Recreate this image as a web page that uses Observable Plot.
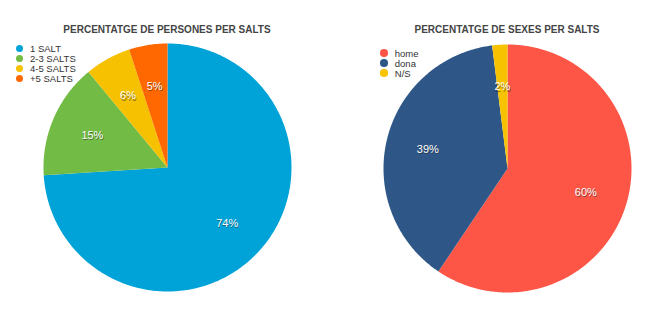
<!DOCTYPE html>
<html>
<head>
<meta charset="utf-8">
<script src="https://cdn.jsdelivr.net/npm/d3@7"></script>
<script src="https://cdn.jsdelivr.net/npm/@observablehq/plot@0.6"></script>
<style>
  html, body { margin: 0; padding: 0; background: #fff; }
  #root { position: relative; width: 660px; height: 322px; font-family: "Liberation Sans", Arial, Helvetica, sans-serif; }
  .panel { position: absolute; top: 0; width: 330px; height: 322px; }
  .title { position: absolute; top: 23.5px; left: 0; width: 330px; text-align: center; font-size: 10px; font-weight: bold; color: #454545; }
  .legend { position: absolute; font-size: 9.5px; color: #333; }
  .legend .row { display: flex; align-items: center; white-space: nowrap; height: 9.9px; }
  .legend .sw { width: 7.5px; height: 7.5px; border-radius: 50%; margin-right: 7px; flex: none; }
  svg { position: absolute; left: 0; top: 0; }
</style>
</head>
<body>
<div id="root"></div>
<script>
// Percentatge de persones per salts
const saltsCategories = ["1 SALT", "2-3 SALTS", "4-5 SALTS", "+5 SALTS"];
const saltsValues = [74, 15, 6, 5];

// Percentatge de sexes per salts
const sexesCategories = ["home", "dona", "N/S"];
const sexesValues = [60, 39, 2];

const saltsPalette = ["#00a3d8", "#72bb44", "#f6c100", "#ff6700"];
const sexesPalette = ["#fe5646", "#2e5788", "#f7c200"];

// Builds closed polygons (one per slice) in unit-circle coordinates,
// starting at 12 o'clock and running clockwise.
function pieData(categories, values) {
  const arcs = d3.pie().sort(null).value(d => d)(values);
  const outline = [];
  const labels = [];
  arcs.forEach((a, i) => {
    const key = categories[i];
    outline.push({key, x: 0, y: 0});
    const steps = Math.max(2, Math.ceil((a.endAngle - a.startAngle) / 0.01));
    for (let s = 0; s <= steps; s++) {
      const t = a.startAngle + (a.endAngle - a.startAngle) * s / steps;
      outline.push({key, x: Math.sin(t), y: Math.cos(t)});
    }
    const mid = (a.startAngle + a.endAngle) / 2;
    labels.push({key, value: values[i], x: 0.66 * Math.sin(mid), y: 0.66 * Math.cos(mid)});
  });
  return {outline, labels};
}

function panel({left, title, categories, values, palette, cx, cy, r, legendX, legendY}) {
  const div = document.createElement("div");
  div.className = "panel";
  div.style.left = left + "px";

  const {outline, labels} = pieData(categories, values);
  const chart = Plot.plot({
    width: 330,
    height: 322,
    margin: 0,
    x: {domain: [-1, 1], range: [cx - r, cx + r], axis: null},
    y: {domain: [-1, 1], range: [cy + r, cy - r], axis: null},
    color: {domain: categories, range: palette},
    style: {fontFamily: "Liberation Sans, Arial, Helvetica, sans-serif", background: "transparent"},
    marks: [
      Plot.line(outline, {x: "x", y: "y", z: "key", fill: "key", stroke: "none", curve: "linear-closed"}),
      Plot.text(labels, {x: "x", y: "y", text: d => d.value + "%", fill: "#222", fillOpacity: 0.55, dx: 0.6, dy: 1.2, fontSize: 11}),
      Plot.text(labels, {x: "x", y: "y", text: d => d.value + "%", fill: "#fff", fontSize: 11})
    ]
  });
  div.appendChild(chart);

  const t = document.createElement("div");
  t.className = "title";
  t.style.left = (cx - 165) + "px";
  t.textContent = title;
  div.appendChild(t);

  const lg = document.createElement("div");
  lg.className = "legend";
  lg.style.left = legendX + "px";
  lg.style.top = legendY + "px";
  categories.forEach((c, i) => {
    const row = document.createElement("div");
    row.className = "row";
    const sw = document.createElement("span");
    sw.className = "sw";
    sw.style.background = palette[i];
    const label = document.createElement("span");
    label.textContent = c;
    row.appendChild(sw);
    row.appendChild(label);
    lg.appendChild(row);
  });
  div.appendChild(lg);
  return div;
}

const root = document.getElementById("root");
root.appendChild(panel({
  left: 0, title: "PERCENTATGE DE PERSONES PER SALTS",
  categories: saltsCategories, values: saltsValues, palette: saltsPalette,
  cx: 167, cy: 167, r: 124, legendX: 15.5, legendY: 43.8
}));
root.appendChild(panel({
  left: 330, title: "PERCENTATGE DE SEXES PER SALTS",
  categories: sexesCategories, values: sexesValues, palette: sexesPalette,
  cx: 177, cy: 168, r: 124, legendX: 50.3, legendY: 48.3
}));
</script>
</body>
</html>
